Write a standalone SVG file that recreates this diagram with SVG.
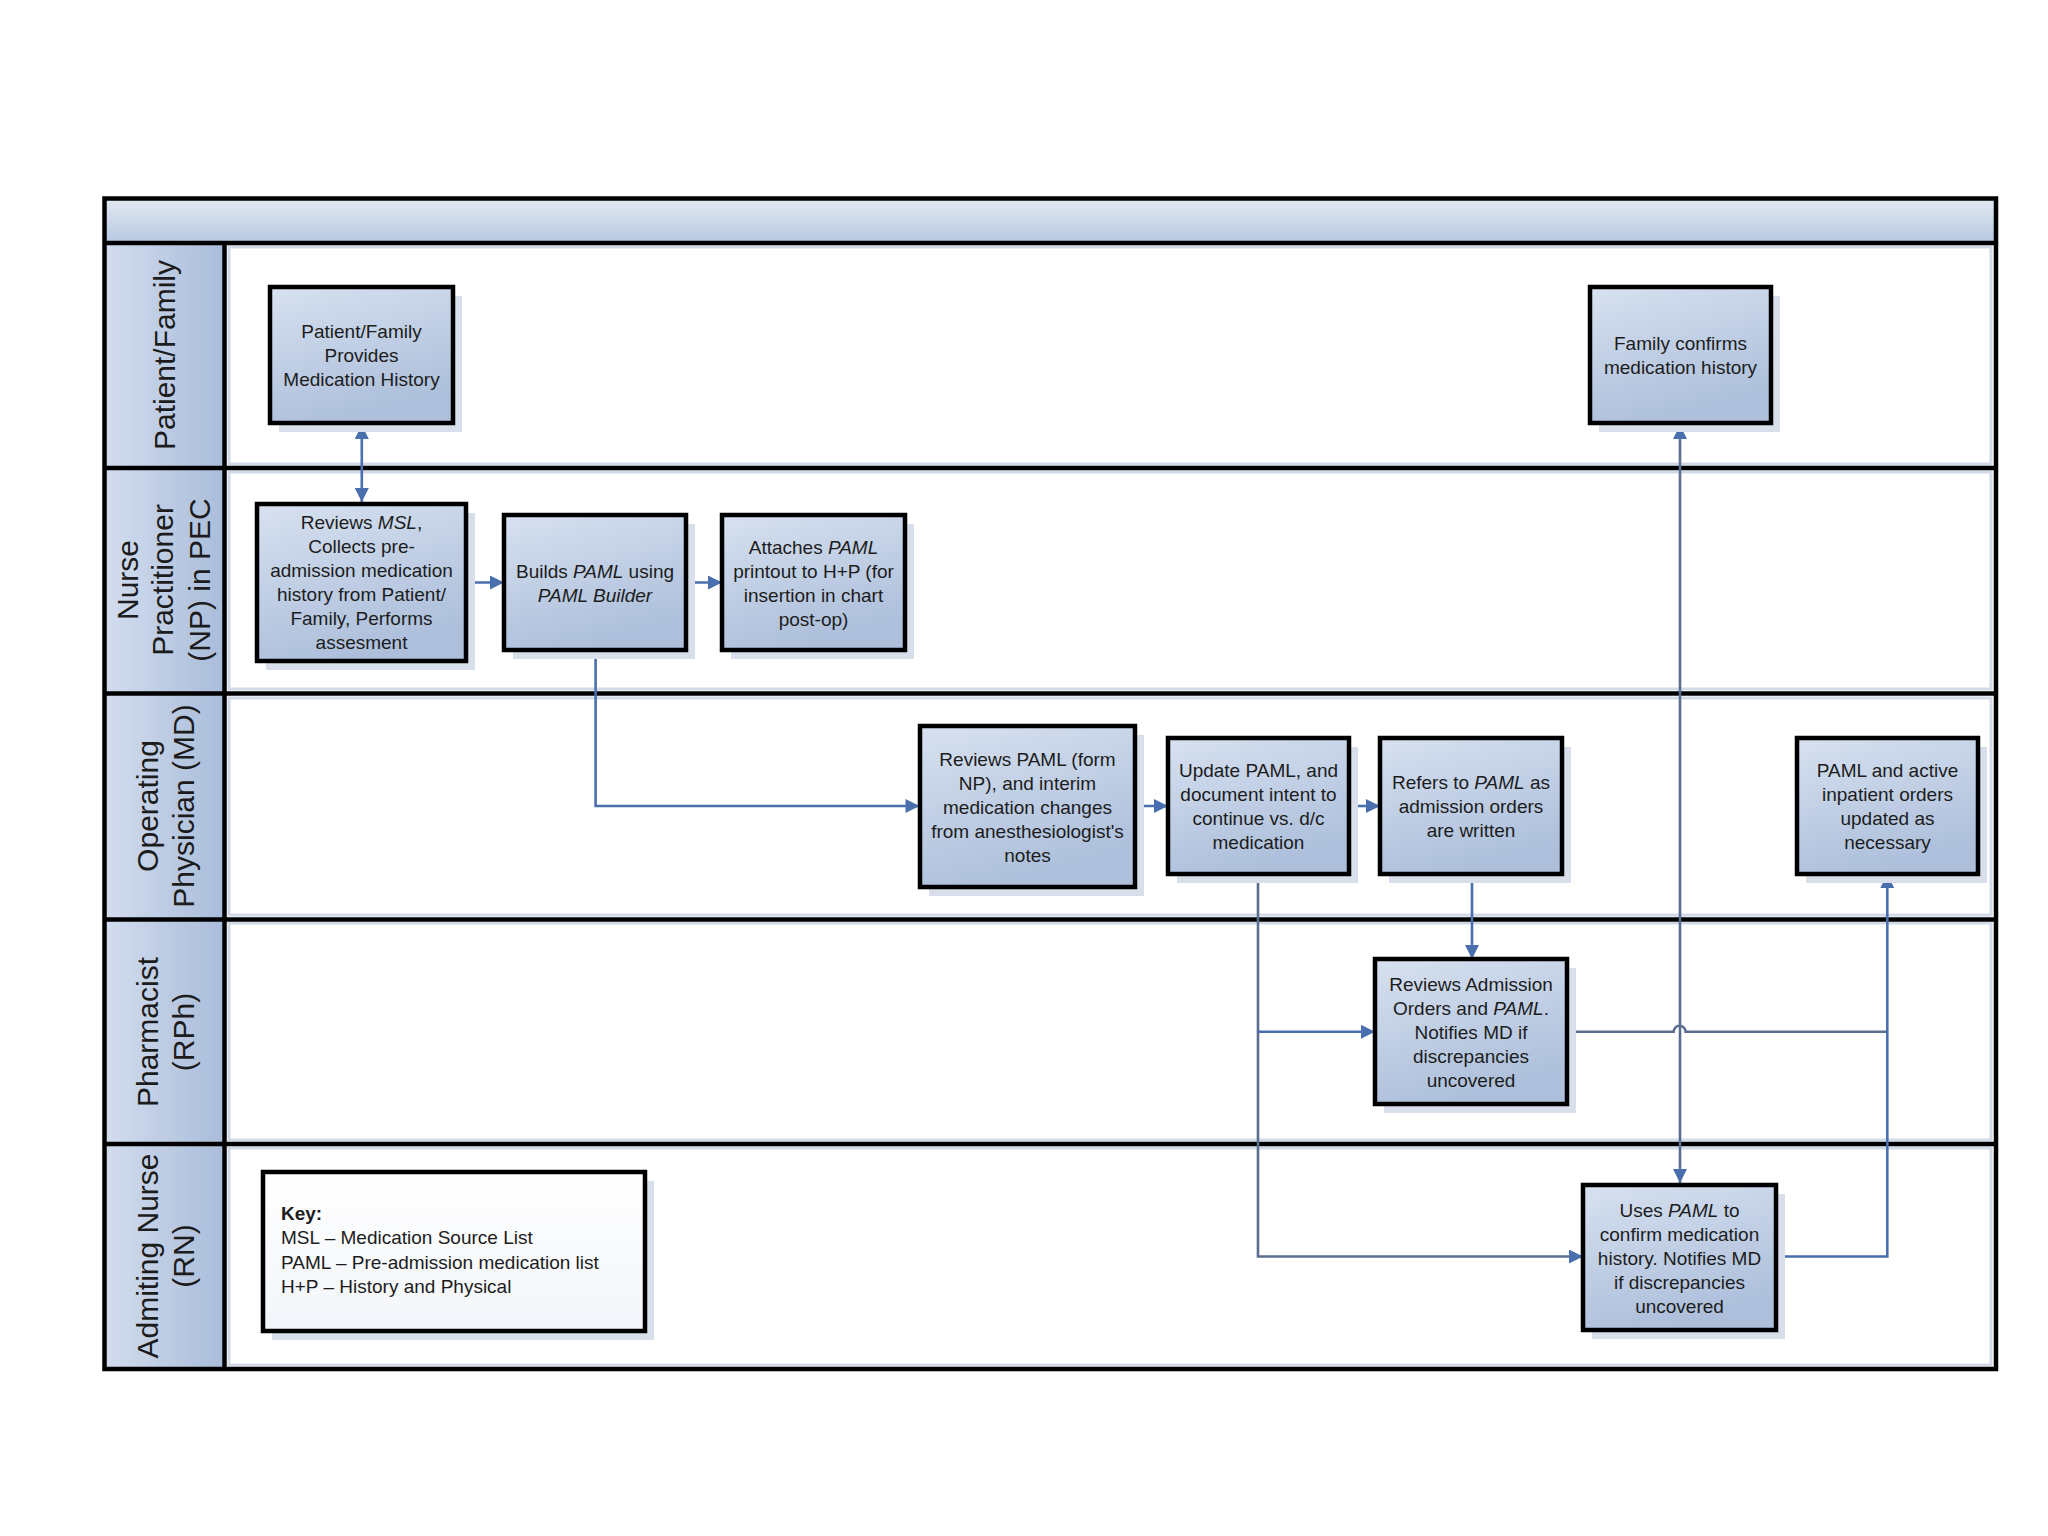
<svg xmlns="http://www.w3.org/2000/svg" width="2048" height="1536" viewBox="0 0 2048 1536">
<defs>
<linearGradient id="gNode" x1="0" y1="0" x2="0.35" y2="1">
<stop offset="0" stop-color="#d7e1f0"/><stop offset="1" stop-color="#adbfdb"/>
</linearGradient>
<linearGradient id="gLane" x1="0" y1="0" x2="1" y2="0">
<stop offset="0" stop-color="#d3ddee"/><stop offset="1" stop-color="#a9bcda"/>
</linearGradient>
<linearGradient id="gHead" x1="0" y1="0" x2="0" y2="1">
<stop offset="0" stop-color="#e3eaf4"/><stop offset="1" stop-color="#b6c7e0"/>
</linearGradient>
<linearGradient id="gKey" x1="0" y1="0" x2="0" y2="1">
<stop offset="0" stop-color="#ffffff"/><stop offset="1" stop-color="#f2f5fa"/>
</linearGradient>
<marker id="arr" viewBox="0 0 10 10" refX="10" refY="5" markerWidth="15" markerHeight="14" markerUnits="userSpaceOnUse" orient="auto-start-reverse">
<path d="M0,0 L10,5 L0,10 z" fill="#4a6fae"/>
</marker>
<style>
.node{fill:url(#gNode);stroke:#000;stroke-width:4.5}
.shadow{fill:#d9dfea}
.t{font-family:"Liberation Sans",Arial,sans-serif;font-size:19px;fill:#1c1c1c;text-anchor:middle}
.k{font-family:"Liberation Sans",Arial,sans-serif;font-size:19px;fill:#1c1c1c}
.lane{font-family:"Liberation Sans",Arial,sans-serif;font-size:30px;fill:#1c1c1c;text-anchor:middle}
.c{fill:none;stroke:#4a6fae;stroke-width:2.6}
.sep{stroke:#000;stroke-width:4.5}
.inner{fill:none;stroke:#d2dae7;stroke-width:3}
</style>
</defs>
<rect width="2048" height="1536" fill="#ffffff"/>

<g id="pool">
<rect x="104.5" y="198.5" width="1891.5" height="44.5" fill="url(#gHead)"/>
<rect x="104.5" y="243" width="120" height="1126" fill="url(#gLane)"/>
<rect class="inner" x="229" y="247" width="1762" height="217"/>
<rect class="inner" x="229" y="472" width="1762" height="217"/>
<rect class="inner" x="229" y="698" width="1762" height="217"/>
<rect class="inner" x="229" y="923" width="1762" height="217"/>
<rect class="inner" x="229" y="1148" width="1762" height="217"/>
<line class="sep" x1="104.5" y1="243" x2="1996" y2="243"/>
<line class="sep" x1="104.5" y1="468" x2="1996" y2="468"/>
<line class="sep" x1="104.5" y1="693.5" x2="1996" y2="693.5"/>
<line class="sep" x1="104.5" y1="919.5" x2="1996" y2="919.5"/>
<line class="sep" x1="104.5" y1="1144" x2="1996" y2="1144"/>
<line class="sep" x1="224.5" y1="243" x2="224.5" y2="1369"/>
<rect x="104.5" y="198.5" width="1891.5" height="1170.5" fill="none" stroke="#000" stroke-width="4.5"/>
</g>

<g id="lane-labels">
<g transform="translate(164,355) rotate(-90)"><text class="lane" y="10.5">Patient/Family</text></g>
<g transform="translate(164,580) rotate(-90)"><text class="lane" y="-26.5">Nurse</text><text class="lane" y="8.5">Practitioner</text><text class="lane" y="46">(NP) in PEC</text></g>
<g transform="translate(164,806) rotate(-90)"><text class="lane" y="-6">Operating</text><text class="lane" y="29.5">Physician (MD)</text></g>
<g transform="translate(164,1032) rotate(-90)"><text class="lane" y="-6">Pharmacist</text><text class="lane" y="29.5">(RPh)</text></g>
<g transform="translate(164,1256) rotate(-90)"><text class="lane" y="-6">Admiting Nurse</text><text class="lane" y="29.5">(RN)</text></g>
</g>

<g id="connectors">
<path class="c" d="M361.8 425 V502" marker-start="url(#arr)" marker-end="url(#arr)"/>
<path class="c" d="M466 582.5 H504" marker-end="url(#arr)"/>
<path class="c" d="M686 582.5 H722" marker-end="url(#arr)"/>
<path class="c" d="M595.6 652 V806 H919.5" marker-end="url(#arr)"/>
<path class="c" d="M1135 806 H1168" marker-end="url(#arr)"/>
<path class="c" d="M1349 806 H1380" marker-end="url(#arr)"/>
<path class="c" style="stroke:#5a6f90" d="M1258 874 V1256.5 H1583" marker-end="url(#arr)"/>
<path class="c" d="M1258 1031.8 H1375" marker-end="url(#arr)"/>
<path class="c" d="M1472 874 V959" marker-end="url(#arr)"/>
<path class="c" style="stroke:#5a6f90" d="M1567 1031.8 H1673.6 A6 6 0 0 1 1685.6 1031.8 H1887.3"/>
<path class="c" d="M1776 1256.5 H1887.3 V874" marker-end="url(#arr)"/>
<path class="c" style="stroke:#5a6f90" d="M1680 425 V1183" marker-start="url(#arr)" marker-end="url(#arr)"/>
</g>

<g id="n1">
<rect class="shadow" x="279" y="296" width="183" height="136"/>
<rect class="node" x="270" y="287" width="183" height="136"/>
<text class="t" x="361.5" y="338">Patient/Family</text>
<text class="t" x="361.5" y="362">Provides</text>
<text class="t" x="361.5" y="386">Medication History</text>
</g>

<g id="n2">
<rect class="shadow" x="266" y="513" width="209" height="157"/>
<rect class="node" x="257" y="504" width="209" height="157"/>
<text class="t" x="361.5" y="529">Reviews <tspan font-style="italic">MSL</tspan>,</text>
<text class="t" x="361.5" y="553">Collects pre-</text>
<text class="t" x="361.5" y="577">admission medication</text>
<text class="t" x="361.5" y="601">history from Patient/</text>
<text class="t" x="361.5" y="625">Family, Performs</text>
<text class="t" x="361.5" y="649">assesment</text>
</g>

<g id="n3">
<rect class="shadow" x="513" y="524" width="182" height="135"/>
<rect class="node" x="504" y="515" width="182" height="135"/>
<text class="t" x="595" y="577.5">Builds <tspan font-style="italic">PAML</tspan> using</text>
<text class="t" x="595" y="601.5" font-style="italic">PAML Builder</text>
</g>

<g id="n4">
<rect class="shadow" x="731" y="524" width="183" height="135"/>
<rect class="node" x="722" y="515" width="183" height="135"/>
<text class="t" x="813.5" y="553.5">Attaches <tspan font-style="italic">PAML</tspan></text>
<text class="t" x="813.5" y="577.5">printout to H+P (for</text>
<text class="t" x="813.5" y="601.5">insertion in chart</text>
<text class="t" x="813.5" y="625.5">post-op)</text>
</g>

<g id="n5">
<rect class="shadow" x="929" y="735" width="215" height="161"/>
<rect class="node" x="920" y="726" width="215" height="161"/>
<text class="t" x="1027.5" y="765.5">Reviews PAML (form</text>
<text class="t" x="1027.5" y="789.5">NP), and interim</text>
<text class="t" x="1027.5" y="813.5">medication changes</text>
<text class="t" x="1027.5" y="837.5">from anesthesiologist's</text>
<text class="t" x="1027.5" y="861.5">notes</text>
</g>

<g id="n6">
<rect class="shadow" x="1177" y="747" width="181" height="136"/>
<rect class="node" x="1168" y="738" width="181" height="136"/>
<text class="t" x="1258.5" y="777">Update PAML, and</text>
<text class="t" x="1258.5" y="801">document intent to</text>
<text class="t" x="1258.5" y="825">continue vs. d/c</text>
<text class="t" x="1258.5" y="849">medication</text>
</g>

<g id="n7">
<rect class="shadow" x="1389" y="747" width="182" height="136"/>
<rect class="node" x="1380" y="738" width="182" height="136"/>
<text class="t" x="1471" y="789">Refers to <tspan font-style="italic">PAML</tspan> as</text>
<text class="t" x="1471" y="813">admission orders</text>
<text class="t" x="1471" y="837">are written</text>
</g>

<g id="n8">
<rect class="shadow" x="1806" y="747" width="181" height="136"/>
<rect class="node" x="1797" y="738" width="181" height="136"/>
<text class="t" x="1887.5" y="777">PAML and active</text>
<text class="t" x="1887.5" y="801">inpatient orders</text>
<text class="t" x="1887.5" y="825">updated as</text>
<text class="t" x="1887.5" y="849">necessary</text>
</g>

<g id="n9">
<rect class="shadow" x="1599" y="296" width="181" height="136"/>
<rect class="node" x="1590" y="287" width="181" height="136"/>
<text class="t" x="1680.5" y="350">Family confirms</text>
<text class="t" x="1680.5" y="374">medication history</text>
</g>

<g id="n10">
<rect class="shadow" x="1384" y="968" width="192" height="145"/>
<rect class="node" x="1375" y="959" width="192" height="145"/>
<text class="t" x="1471" y="990.5">Reviews Admission</text>
<text class="t" x="1471" y="1014.5">Orders and <tspan font-style="italic">PAML</tspan>.</text>
<text class="t" x="1471" y="1038.5">Notifies MD if</text>
<text class="t" x="1471" y="1062.5">discrepancies</text>
<text class="t" x="1471" y="1086.5">uncovered</text>
</g>

<g id="n11">
<rect class="shadow" x="1592" y="1194" width="193" height="145"/>
<rect class="node" x="1583" y="1185" width="193" height="145"/>
<text class="t" x="1679.5" y="1216.5">Uses <tspan font-style="italic">PAML</tspan> to</text>
<text class="t" x="1679.5" y="1240.5">confirm medication</text>
<text class="t" x="1679.5" y="1264.5">history. Notifies MD</text>
<text class="t" x="1679.5" y="1288.5">if discrepancies</text>
<text class="t" x="1679.5" y="1312.5">uncovered</text>
</g>

<g id="key">
<rect class="shadow" x="272" y="1181" width="382" height="159"/>
<rect x="263" y="1172" width="382" height="159" fill="url(#gKey)" stroke="#000" stroke-width="4.5"/>
<text class="k" x="281" y="1220" font-weight="bold">Key:</text>
<text class="k" x="281" y="1244">MSL – Medication Source List</text>
<text class="k" x="281" y="1269">PAML – Pre-admission medication list</text>
<text class="k" x="281" y="1293">H+P – History and Physical</text>
</g>
</svg>
